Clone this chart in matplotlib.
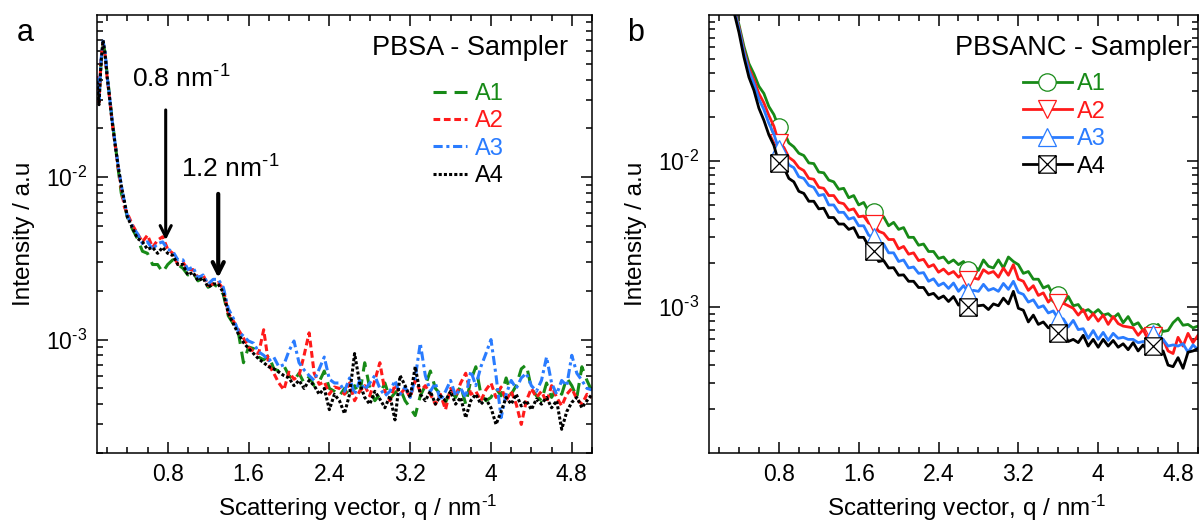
import numpy as np
import matplotlib
matplotlib.use("Agg")
import matplotlib.pyplot as plt
from matplotlib.path import Path
from matplotlib.ticker import FixedLocator, LogLocator, FuncFormatter, NullFormatter, MultipleLocator

plt.rcParams['font.family'] = ['Liberation Sans', 'DejaVu Sans']
plt.rcParams['mathtext.fontset'] = 'custom'
plt.rcParams['mathtext.rm'] = 'Liberation Sans'
plt.rcParams['mathtext.it'] = 'Liberation Sans:italic'
plt.rcParams['mathtext.bf'] = 'Liberation Sans:bold'
plt.rcParams['mathtext.default'] = 'regular'

# ---------------- data (intensities in units of 1e-4 a.u.) ----------------
labels = ['A1', 'A2', 'A3', 'A4']

# Panel a: PBSA - Sampler
q_a = [0.10, 0.12, 0.14, 0.16, 0.18, 0.20, 0.22, 0.25, 0.28, 0.31, 0.34, 0.37, 0.40, 0.45] + \
      list(np.round(np.arange(0.50, 5.001, 0.05), 2))

a_A1 = [380, 310, 500, 660, 590, 430, 335, 225, 162, 112, 80, 68, 57, 48,
        42, 35, 34, 29, 29, 26, 29, 31, 29, 27.5, 25, 26, 23, 24, 21, 22, 21, 19, 14, 12.5,
        11, 7.2, 9.0, 8.8, 7.8, 7.5, 8.0, 6.6, 6.4, 6.9, 6.0, 5.6, 6.2, 5.4, 5.9, 5.2, 5.5, 6.4, 5.0, 4.8,
        4.5, 5.0, 4.4, 5.2, 4.6, 7.2, 5.0, 4.2, 4.6, 5.4, 4.3, 4.7, 5.0, 4.2, 3.8, 3.4, 4.5, 5.2, 6.4, 5.0,
        4.6, 4.1, 4.8, 4.4, 5.2, 4.0, 5.6, 6.8, 4.6, 4.2, 4.4, 5.0, 4.5, 5.8, 4.6, 5.2, 6.6, 7.0, 5.0, 4.5,
        4.2, 5.4, 4.4, 5.0, 4.6, 5.8, 5.2, 4.4, 6.8, 5.6, 4.8]
a_A2 = [420, 290, 540, 670, 570, 415, 325, 218, 158, 114, 86, 66, 60, 51,
        45, 40, 44, 37, 41, 43, 36, 34, 29, 30, 27, 27, 24, 25, 21.5, 22, 22.5, 20.5, 14.5, 13,
        11.5, 10.2, 9.0, 8.4, 8.2, 11.5, 7.0, 6.2, 5.4, 4.9, 6.3, 5.7, 6.0, 8.0, 11.0, 6.2, 5.3, 5.5, 4.6, 5.1,
        5.0, 4.6, 5.4, 4.2, 4.8, 5.2, 4.5, 5.6, 7.2, 4.8, 4.2, 5.3, 4.6, 5.0, 4.4, 5.6, 4.8, 5.2, 4.6, 4.0,
        4.6, 3.7, 5.0, 4.5, 5.4, 6.2, 4.6, 4.8, 4.2, 4.9, 5.4, 4.4, 5.1, 4.2, 4.8, 4.0, 3.0, 4.2, 5.0, 4.4,
        4.8, 4.1, 5.2, 4.4, 3.9, 4.6, 5.0, 4.3, 4.0, 4.6, 4.4]
a_A3 = [410, 300, 530, 690, 600, 425, 332, 224, 161, 117, 90, 71, 58, 50,
        45, 39, 40, 36, 39, 40, 36, 35, 31, 31, 27, 28, 24, 25, 22, 23.5, 23.5, 21, 15.5, 13.5,
        11.2, 10.5, 9.8, 9.5, 8.4, 8.0, 7.4, 7.8, 6.8, 7.0, 8.5, 9.8, 7.2, 6.5, 6.0, 5.6, 6.6, 7.8, 5.7, 5.4,
        5.4, 4.8, 5.8, 4.6, 5.6, 4.9, 5.4, 6.0, 5.0, 4.5, 4.8, 5.6, 4.6, 5.1, 4.4, 5.8, 9.5, 6.0, 4.8, 5.4,
        4.2, 4.8, 5.6, 4.5, 5.0, 4.4, 6.4, 5.2, 6.8, 8.2, 10.0, 6.0, 3.3, 4.6, 5.6, 5.0, 5.8, 6.2, 5.2, 4.8,
        5.6, 7.8, 5.4, 4.6, 5.6, 5.2, 8.0, 6.2, 5.6, 5.0, 4.9]
a_A4 = [390, 280, 510, 700, 575, 418, 328, 220, 158, 116, 89, 72, 57, 49,
        42, 40, 36, 37, 34, 37, 34, 33, 29, 29, 25, 26, 23, 24, 21, 22, 22, 19.5, 14.5, 12.5,
        10.8, 9.6, 8.8, 8.2, 7.6, 7.2, 6.8, 6.6, 6.3, 6.0, 5.8, 5.2, 5.6, 5.0, 5.6, 5.2, 4.6, 5.0, 3.7, 4.6,
        4.2, 3.5, 4.6, 8.2, 5.4, 4.4, 4.0, 4.8, 4.3, 3.8, 4.5, 3.2, 6.0, 5.2, 4.4, 6.8, 4.6, 4.2, 4.8, 4.0,
        4.5, 4.2, 4.8, 4.0, 4.4, 3.3, 4.2, 4.6, 4.0, 4.3, 3.8, 3.0, 3.6, 4.4, 4.0, 4.6, 3.9, 4.2, 3.7, 4.3,
        4.0, 4.4, 3.8, 4.2, 2.8, 3.6, 4.1, 4.4, 3.8, 4.2, 4.6]

# Panel b: PBSANC - Sampler
q_b = list(np.round(np.arange(0.35, 5.001, 0.05), 2))

b_A1 = [1150, 860, 610, 465, 395, 325, 290, 236, 208, 170,
        160, 133, 125, 113, 109, 97, 96, 84, 83, 74,
        72, 64, 65, 56, 58, 50, 52, 45, 45, 41,
        41.5, 36, 38, 34, 35, 30, 30, 26.5, 27, 24,
        24, 21.5, 22, 20, 21, 19.5, 20.5, 18, 19.5, 17.8,
        21, 19, 18.5, 21, 18.5, 22, 20.5, 19.5, 17, 17.5,
        15.5, 15.5, 13.5, 14, 12, 12, 10.6, 11.8, 10.2, 10.4,
        9.3, 9.6, 9.0, 9.6, 8.8, 9.0, 8.4, 9.0, 7.8, 8.6,
        7.5, 7.8, 6.9, 7.3, 6.7, 7.6, 6.8, 6.9, 7.8, 8.4,
        7.5, 7.6, 7.2, 7.4]
b_A2 = [1120, 830, 575, 435, 360, 290, 250, 205, 173, 133,
        124, 106, 100, 90, 86, 76, 75, 66, 65, 58,
        58, 52, 51, 46, 47, 41.5, 42, 37.5, 37, 33,
        32, 29, 29, 25, 26, 23, 23.5, 20.8, 21.2, 18.8,
        19.5, 17.3, 18.2, 16.8, 17.5, 16, 17.2, 15.3, 15.8, 15.5,
        18, 17, 17.5, 16, 18.5, 16.5, 19.5, 15.5, 15, 13,
        14, 12, 12.5, 10.8, 11.8, 10.6, 10.6, 10.2, 9.8, 8.8,
        9.6, 8.2, 9.0, 8.0, 8.8, 7.6, 8.6, 7.7, 7.4, 7.3,
        7.2, 6.4, 7.0, 6.0, 6.3, 6.1, 6.0, 5.0, 4.8, 6.2,
        5.4, 6.6, 5.7, 6.4]
b_A3 = [1100, 810, 555, 415, 340, 265, 225, 181, 153, 120,
        112, 94, 90, 78, 76, 68, 66, 58, 59, 50,
        50, 44.5, 44.5, 40, 41, 36, 36, 31, 30, 27,
        27, 23.5, 23.5, 20.5, 21, 18.5, 18.8, 17, 17.2, 15,
        15.6, 14, 14.6, 13.4, 14.6, 12.8, 14, 12.6, 13, 12.8,
        14.3, 13, 13.4, 12.8, 14.5, 13.2, 15, 12.6, 12.2, 10.8,
        11.2, 9.9, 10.2, 9.1, 9.4, 8.3, 8.3, 7.3, 8.1, 7.0,
        7.1, 6.1, 6.9, 6.0, 6.7, 5.9, 6.6, 6.1, 6.2, 6.0,
        6.0, 5.7, 5.8, 5.8, 6.5, 6.4, 6.0, 5.4, 5.5, 5.4,
        5.6, 4.9, 5.5, 5.1]
b_A4 = [1050, 760, 515, 375, 305, 230, 190, 151, 128, 97,
        90, 76, 72, 62, 60, 53, 53, 47, 47.5, 41,
        41, 37, 37, 34, 35, 30, 30, 26, 24, 20.5,
        20.8, 18.5, 18.6, 16.5, 16.6, 15, 15, 13.6, 13.6, 12.1,
        12.4, 11.4, 11.9, 10.9, 11.8, 10.3, 11.1, 10, 10.3, 10.2,
        10.3, 9.6, 10.5, 10.2, 11.5, 10.5, 12.8, 9.8, 9.5, 7.9,
        8.8, 7.6, 7.9, 7.2, 7.3, 6.6, 6.7, 5.8, 6.0, 5.7,
        6.4, 5.4, 6.0, 5.3, 6.0, 5.4, 5.9, 5.3, 5.6, 5.1,
        5.7, 5.0, 5.5, 4.9, 5.4, 4.9, 5.0, 4.0, 3.9, 4.5,
        3.8, 4.9, 5.0, 5.2]

marker_idx = [9, 28, 47, 65, 84]

# ---------------- styles ----------------
colors = ['#178a17', '#ff1a1a', '#2a7cff', '#000000']
styles_a = [(0, (4.3, 2.6)), (0, (2.2, 1.2)), (0, (3.0, 1.2, 1.0, 1.2)), (0, (1.0, 0.7))]

sqx = Path([(-1, -1), (1, -1), (1, 1), (-1, 1), (-1, -1), (-1, -1), (1, 1), (-1, 1), (1, -1)],
           [Path.MOVETO, Path.LINETO, Path.LINETO, Path.LINETO, Path.CLOSEPOLY,
            Path.MOVETO, Path.LINETO, Path.MOVETO, Path.LINETO])
markers_b = ['o', 'v', '^', sqx]
msizes_b = [12.5, 12.5, 12.5, 12.5]

fig = plt.figure(figsize=(12, 5.24), dpi=100)
W, H = 1200, 524
axA = fig.add_axes([97 / W, (H - 453) / H, 495 / W, 438 / H])
axB = fig.add_axes([709 / W, (H - 453) / H, 489 / W, 438 / H])

TICK_FS = 16.5
LABEL_FS = 17.5
SUP = r'$^{\text{-}1}$'


def style_axis(ax, ymin, ymax, width_px):
    ax.set_yscale('log')
    ax.set_xlim(0.1, 5.0)
    ax.set_ylim(ymin, ymax)
    ax.xaxis.set_major_locator(MultipleLocator(0.8))
    ax.xaxis.set_minor_locator(MultipleLocator(0.2))
    ax.xaxis.set_major_formatter(FuncFormatter(lambda v, p: '%g' % round(v, 2)))
    ax.yaxis.set_major_locator(FixedLocator([1e-3, 1e-2]))
    ax.yaxis.set_minor_locator(LogLocator(base=10, subs=np.arange(2, 10)))
    ax.yaxis.set_minor_formatter(NullFormatter())
    ax.yaxis.set_major_formatter(FuncFormatter(
        lambda v, p: r'$10^{\text{-}%d}$' % int(round(-np.log10(v)))))
    ax.tick_params(which='both', direction='in', top=True, right=True, labelsize=TICK_FS, width=1.1)
    ax.tick_params(which='major', length=8, pad=7)
    ax.tick_params(which='minor', length=4)
    for s in ax.spines.values():
        s.set_linewidth(1.1)
    ax.set_xlabel('Scattering vector, q / nm' + SUP, fontsize=LABEL_FS, va='top')
    ax.xaxis.set_label_coords(0.5 + 13 / width_px, -0.090)
    ax.set_ylabel('Intensity / a.u', fontsize=LABEL_FS, labelpad=8)


# ---------------- panel a ----------------
series_a = [a_A1, a_A2, a_A3, a_A4]
for vals, c, ls, lab in zip(series_a, colors, styles_a, labels):
    axA.plot(q_a, np.array(vals) * 1e-4, color=c, ls=ls, lw=2.2, label=lab)
style_axis(axA, 2e-4, 0.1, 495)

axA.annotate('', xy=(0.78, 0.0041), xytext=(0.78, 0.026),
             arrowprops=dict(arrowstyle='->,head_length=0.8,head_width=0.4', lw=2.2, color='black',
                             shrinkA=0, shrinkB=0))
axA.annotate('', xy=(1.3, 0.0024), xytext=(1.3, 0.0079),
             arrowprops=dict(arrowstyle='->,head_length=0.8,head_width=0.4', lw=3, color='black',
                             shrinkA=0, shrinkB=0))
axA.text(0.45, 0.0355, '0.8 nm' + SUP, fontsize=19, ha='left', va='baseline')
axA.text(0.93, 0.0099, '1.2 nm' + SUP, fontsize=19, ha='left', va='baseline')
axA.text(0.952, 0.925, 'PBSA - Sampler', transform=axA.transAxes, fontsize=19.5, ha='right', va='center')

legA = axA.legend(loc='upper left', bbox_to_anchor=(0.679, 0.845), frameon=False, fontsize=17,
                  handlelength=1.45, handletextpad=0.34, labelspacing=0.23, borderpad=0, borderaxespad=0)
for t, c in zip(legA.get_texts(), colors):
    t.set_color(c)

# ---------------- panel b ----------------
series_b = [b_A1, b_A2, b_A3, b_A4]
for vals, c, m, ms, lab in zip(series_b, colors, markers_b, msizes_b, labels):
    axB.plot(q_b, np.array(vals) * 1e-4, color=c, lw=2.0, marker=m, ms=ms, mfc='white', mec=c,
             mew=0.9, markevery=marker_idx, label=lab)
style_axis(axB, 1e-4, 0.1, 489)
axB.text(0.988, 0.925, 'PBSANC - Sampler', transform=axB.transAxes, fontsize=19.5, ha='right', va='center')
legB = axB.legend(loc='upper left', bbox_to_anchor=(0.642, 0.867), frameon=False, fontsize=17,
                  handlelength=2.07, handletextpad=0.2, labelspacing=0.23, borderpad=0, borderaxespad=0,
                  numpoints=1)
for t, c in zip(legB.get_texts(), colors):
    t.set_color(c)

fig.text(0.014, 1 - 41 / H, 'a', fontsize=22, ha='left', va='baseline')
fig.text(0.5225, 1 - 41 / H, 'b', fontsize=22, ha='left', va='baseline')

fig.savefig('out.png', dpi=100)
